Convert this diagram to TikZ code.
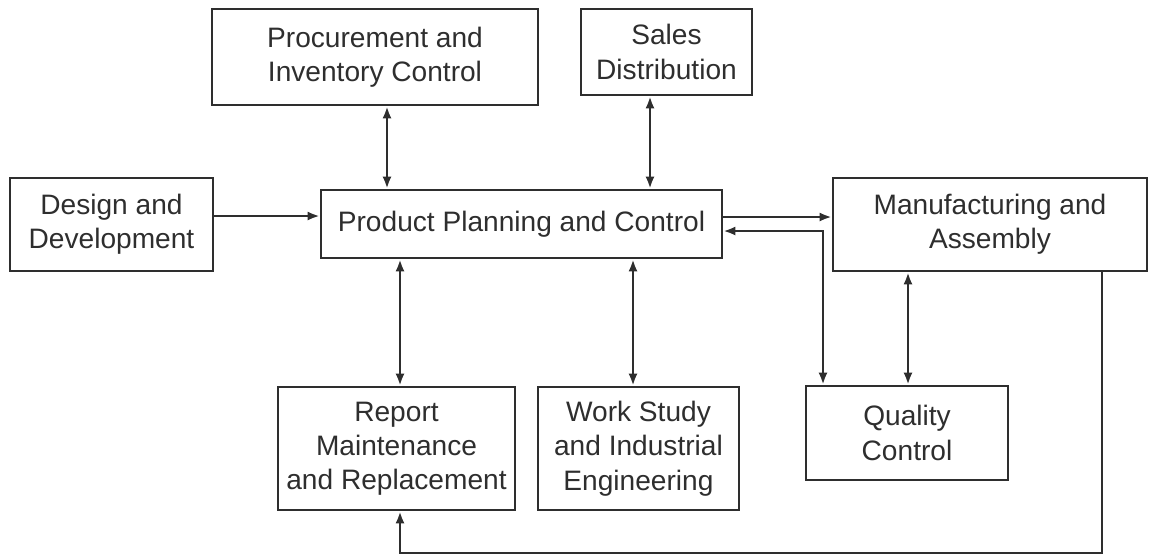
\documentclass[tikz,border=0pt]{standalone}
\usepackage{fontspec}
\setmainfont{Liberation Sans}
\usetikzlibrary{arrows.meta}
\definecolor{ink}{HTML}{2E2E2E}
\newcommand\px{0.02cm}

\tikzset{
	blk/.style 2 args={draw=ink, line width=1.5pt, text=ink, align=center, inner sep=0pt,
		minimum width=#1*\px, minimum height=#2*\px,
		font=\fontsize{16}{19.5}\selectfont},
	link/.style={draw=ink, line width=1.4pt, {Latex[length=0.24cm,width=0.18cm]}-{Latex[length=0.24cm,width=0.18cm]}},
	flow/.style={draw=ink, line width=1.4pt, -{Latex[length=0.24cm,width=0.18cm]}}
}

\begin{document}
\begin{tikzpicture}[x=\px, y=-\px]
\useasboundingbox (0,0) rectangle (1150,556);

\node[blk={326}{96}] (proc) at (375,57) {Procurement and\\Inventory Control};
\node[blk={171}{86}] (sales) at (666.5,52) {Sales\\Distribution};
\node[blk={203}{93}] (design) at (111.5,224.5) {Design and\\Development};
\node[blk={401}{68}] (ppc) at (521.5,224) {Product Planning and Control};
\node[blk={314}{93}] (mfg) at (990,224.5) {Manufacturing and\\Assembly};
\node[blk={237}{123}] (report) at (396.5,448.5) {Report\\Maintenance\\and Replacement};
\node[blk={201}{123}] (work) at (638.5,448.5) {Work Study\\and Industrial\\Engineering};
\node[blk={202}{94}] (qc) at (907,433) {Quality\\Control};

\coordinate (xproc) at (387,0);
\coordinate (xsales) at (650,0);
\coordinate (xrep) at (400,0);
\coordinate (xwork) at (633,0);
\coordinate (xqc) at (908,0);
\coordinate (xret) at (823,0);
\coordinate (xfb) at (1102,0);
\coordinate (yin) at (0,216);
\coordinate (yout) at (0,217);
\coordinate (yret) at (0,231);
\coordinate (yfb) at (0,553);

\draw[link] (xproc |- proc.south) -- (xproc |- ppc.north);
\draw[link] (xsales |- sales.south) -- (xsales |- ppc.north);
\draw[flow] (yin -| design.east) -- (yin -| ppc.west);
\draw[flow] (yout -| ppc.east) -- (yout -| mfg.west);
\draw[link] (yret -| ppc.east) -- (xret |- yret) -- (xret |- qc.north);
\foreach \a/\b in {xrep/report, xwork/work} {
	\draw[link] (\a |- ppc.south) -- (\a |- \b.north);
}
\draw[link] (xqc |- mfg.south) -- (xqc |- qc.north);
\draw[flow] (xfb |- mfg.south) -- (xfb |- yfb) -- (xrep |- yfb) -- (xrep |- report.south);
\end{tikzpicture}
\end{document}
